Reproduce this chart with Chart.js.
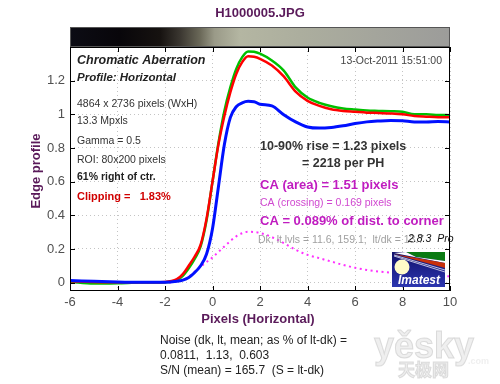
<!DOCTYPE html>
<html>
<head>
<meta charset="utf-8">
<script src="https://cdn.jsdelivr.net/npm/chart.js@4.4.1/dist/chart.umd.min.js"></script>
<style>
  html, body { margin: 0; padding: 0; background: #fff; }
  canvas { display: block; }
</style>
</head>
<body>
<canvas id="chart" width="500" height="384"></canvas>
<script>
// edge profile samples
const pixels = [-6, -5, -4, -3, -2, -1.5, -1.25, -1, -0.75, -0.5, -0.25, 0, 0.25, 0.5, 0.75, 1, 1.25, 1.5, 1.75, 2, 2.5, 3, 3.5, 4, 4.5, 5, 5.5, 6, 6.5, 7, 7.5, 8, 8.5, 9, 9.5, 10];
const greenEdge = [0.005, -0.006, -0.004, 0, 0.002, 0.015, 0.04, 0.085, 0.14, 0.215, 0.37, 0.6, 0.83, 1.02, 1.16, 1.27, 1.34, 1.374, 1.372, 1.36, 1.32, 1.26, 1.16, 1.1, 1.068, 1.048, 1.035, 1.028, 1.022, 1.02, 1.018, 1.015, 1.0, 1.0, 0.996, 0.995];
const redEdge = [0.008, 0.004, 0.002, 0.002, 0.004, 0.02, 0.05, 0.1, 0.155, 0.225, 0.38, 0.6, 0.82, 0.99, 1.13, 1.24, 1.31, 1.345, 1.342, 1.33, 1.29, 1.225, 1.135, 1.08, 1.05, 1.03, 1.02, 1.015, 1.01, 1.008, 1.005, 1.0, 0.99, 0.986, 0.983, 0.983];
const blueEdge = [0.012, 0.008, 0.004, 0.002, 0.002, 0.008, 0.015, 0.03, 0.06, 0.1, 0.17, 0.32, 0.57, 0.82, 0.98, 1.045, 1.068, 1.077, 1.075, 1.06, 1.05, 0.998, 0.955, 0.925, 0.918, 0.922, 0.932, 0.945, 0.955, 0.96, 0.963, 0.962, 0.955, 0.955, 0.957, 0.955];
const caArea = [0, 0, 0, 0, 0, 0.005, 0.015, 0.035, 0.065, 0.095, 0.122, 0.15, 0.182, 0.215, 0.247, 0.275, 0.293, 0.302, 0.3, 0.295, 0.27, 0.235, 0.195, 0.165, 0.145, 0.125, 0.105, 0.088, 0.075, 0.066, 0.059, 0.053, 0.048, 0.044, 0.04, 0.037];

const xTicks = [-6, -4, -2, 0, 2, 4, 6, 8, 10];
const xTickLabels = ['-6', '-4', '-2', '0', '2', '4', '6', '8', '10'];
const yTicks = [0, 0.2, 0.4, 0.6, 0.8, 1, 1.2];
const yTickLabels = ['0', '0.2', '0.4', '0.6', '0.8', '1', '1.2'];

const FONT = '"Liberation Sans", Arial, sans-serif';

const toPoints = (ys) => ys.map((v, i) => ({ x: pixels[i], y: v }));

// рисуем всё, что не является данными: полоса, рамка, подписи, логотип
const decor = {
  id: 'decor',
  beforeDraw(chart) {
    const { ctx } = chart;
    ctx.save();
    ctx.fillStyle = '#fff';
    ctx.fillRect(0, 0, chart.width, chart.height);
    ctx.restore();
  },
  afterDraw(chart) {
    const {
      ctx, chartArea: {
        left, top, right, bottom,
      }, scales: { x, y },
    } = chart;
    const w = right - left;

    const txt = (s, tx, ty, font, color, align = 'left') => {
      ctx.font = font;
      ctx.fillStyle = color;
      ctx.textAlign = align;
      ctx.textBaseline = 'middle';
      ctx.fillText(s, tx, ty);
    };

    ctx.save();

    // gray gradient strip above the plot
    const g = ctx.createLinearGradient(left, 0, right, 0);
    g.addColorStop(0, '#0c0c14');
    g.addColorStop(0.13, '#08060a');
    g.addColorStop(0.237, '#161210');
    g.addColorStop(0.289, '#3a3630');
    g.addColorStop(0.342, '#6a6858');
    g.addColorStop(0.38, '#9a9a88');
    g.addColorStop(0.447, '#b4b6a2');
    g.addColorStop(0.605, '#acae9e');
    g.addColorStop(1, '#9c9c9a');
    ctx.fillStyle = g;
    ctx.fillRect(left, top - 20, w, 19);
    ctx.strokeStyle = '#555';
    ctx.lineWidth = 1;
    ctx.strokeRect(left + 0.5, top - 19.5, w - 1, 19);

    // frame
    ctx.strokeStyle = '#000';
    ctx.strokeRect(left + 0.5, top + 0.5, w - 1, bottom - top - 1);

    // inward ticks
    ctx.beginPath();
    xTicks.forEach((v) => {
      const px = Math.round(x.getPixelForValue(v)) + 0.5;
      ctx.moveTo(px, bottom);
      ctx.lineTo(px, bottom - 5);
      ctx.moveTo(px, top);
      ctx.lineTo(px, top + 5);
    });
    yTicks.forEach((v) => {
      const py = Math.round(y.getPixelForValue(v)) + 0.5;
      ctx.moveTo(left, py);
      ctx.lineTo(left + 5, py);
      ctx.moveTo(right, py);
      ctx.lineTo(right - 5, py);
    });
    ctx.stroke();

    // titles
    const purple = '#5a1a5a';
    txt('H1000005.JPG', 260, 13, `bold 13px ${FONT}`, purple, 'center');
    txt('Pixels (Horizontal)', 258, 319, `bold 13px ${FONT}`, purple, 'center');
    ctx.save();
    ctx.translate(36, 171);
    ctx.rotate(-Math.PI / 2);
    txt('Edge profile', 0, 0, `bold 13px ${FONT}`, purple, 'center');
    ctx.restore();

    // info block, left
    txt('Chromatic Aberration', 77, 61, `italic bold 12.5px ${FONT}`, '#222');
    txt('Profile: Horizontal', 77, 78, `italic bold 11.5px ${FONT}`, '#222');
    txt('4864 x 2736 pixels (WxH)', 77, 104, `10.5px ${FONT}`, '#333');
    txt('13.3 Mpxls', 77, 121, `10.5px ${FONT}`, '#333');
    txt('Gamma = 0.5', 77, 141, `10.5px ${FONT}`, '#333');
    txt('ROI: 80x200 pixels', 77, 160, `10.5px ${FONT}`, '#333');
    txt('61% right of ctr.', 77, 177, `bold 10.5px ${FONT}`, '#222');
    txt('Clipping =   1.83%', 77, 197, `bold 11px ${FONT}`, '#d00000');
    txt('13-Oct-2011 15:51:00', 442, 61, `10.5px ${FONT}`, '#444', 'right');

    // results block, right
    txt('10-90% rise = 1.23 pixels', 260, 147, `bold 12.5px ${FONT}`, '#333');
    txt('= 2218 per PH', 302, 164, `bold 12.5px ${FONT}`, '#333');
    txt('CA (area) = 1.51 pixels', 260, 185, `bold 13px ${FONT}`, '#c01cc0');
    txt('CA (crossing) = 0.169 pixels', 260, 203, `10.5px ${FONT}`, '#d048d0');
    txt('CA = 0.089% of dist. to corner', 260, 221, `bold 13px ${FONT}`, '#c01cc0');
    txt('Dk, lt lvls = 11.6, 159.1;  lt/dk = 13.7', 258, 240, `10.5px ${FONT}`, '#a0a0a0');
    txt('2.8.3  Pro', 408, 239, `italic 10.5px ${FONT}`, '#111');

    // Imatest logo
    const lx = 392;
    const ly = 252;
    const lw = 53;
    const lh = 35;
    const lg = ctx.createLinearGradient(lx, ly, lx, ly + lh);
    lg.addColorStop(0, '#10106a');
    lg.addColorStop(1, '#2c36b0');
    ctx.fillStyle = lg;
    ctx.fillRect(lx, ly, lw, lh);
    ctx.fillStyle = '#0a7a12';
    ctx.beginPath();
    ctx.moveTo(lx + 14, ly);
    ctx.lineTo(lx + lw, ly);
    ctx.lineTo(lx + lw, ly + 9);
    ctx.lineTo(lx + 24, ly + 5);
    ctx.closePath();
    ctx.fill();
    ctx.fillStyle = '#ffffff';
    ctx.beginPath();
    ctx.moveTo(lx + 2, ly + 1);
    ctx.lineTo(lx + 14, ly);
    ctx.lineTo(lx + 24, ly + 5);
    ctx.lineTo(lx + lw, ly + 9);
    ctx.lineTo(lx + lw, ly + 11);
    ctx.closePath();
    ctx.fill();
    ctx.fillStyle = '#c8300c';
    ctx.beginPath();
    ctx.moveTo(lx + 2, ly + 2);
    ctx.lineTo(lx + lw, ly + 11);
    ctx.lineTo(lx + lw, ly + 16);
    ctx.closePath();
    ctx.fill();
    ctx.strokeStyle = '#e8e8f8';
    ctx.lineWidth = 0.8;
    ctx.beginPath();
    ctx.moveTo(lx + 2, ly + 3);
    ctx.lineTo(lx + lw, ly + 18);
    ctx.moveTo(lx + 2, ly + 4);
    ctx.lineTo(lx + lw, ly + 20);
    ctx.stroke();
    ctx.fillStyle = '#fffcc8';
    ctx.beginPath();
    ctx.arc(lx + 10, ly + 15, 7.5, 0, Math.PI * 2);
    ctx.fill();
    txt('Imatest', lx + 27, ly + 29, `italic bold 12px ${FONT}`, '#ffffff', 'center');

    // footer
    txt('Noise (dk, lt, mean; as % of lt-dk) =', 160, 341, `12px ${FONT}`, '#222');
    txt('0.0811,  1.13,  0.603', 160, 356, `12px ${FONT}`, '#222');
    txt('S/N (mean) = 165.7  (S = lt-dk)', 160, 371, `12px ${FONT}`, '#222');

    // watermark
    ctx.globalAlpha = 0.6;
    ctx.font = `bold 36px ${FONT}`;
    ctx.textAlign = 'left';
    ctx.textBaseline = 'alphabetic';
    ctx.fillStyle = '#e4e4e4';
    ctx.strokeStyle = '#c8c8c8';
    ctx.lineWidth = 1;
    ctx.fillText('yěsky', 374, 358);
    ctx.strokeText('yěsky', 374, 358);
    ctx.font = `bold 17px "Noto Sans CJK SC", sans-serif`;
    ctx.fillText('天极网', 398, 376);
    ctx.strokeText('天极网', 398, 376);
    ctx.font = `bold 9px ${FONT}`;
    ctx.fillText('.com', 468, 364);
    ctx.globalAlpha = 1;

    ctx.restore();
  },
};

const tickFont = { family: FONT, size: 13 };

const chartConfig = {
  type: 'line',
  data: {
    datasets: [
      {
        data: toPoints(blueEdge), borderColor: '#0010ff', borderWidth: 3,
      },
      {
        data: toPoints(redEdge), borderColor: '#ff0000', borderWidth: 2.5,
      },
      {
        data: toPoints(greenEdge), borderColor: '#00c000', borderWidth: 2.5,
      },
      {
        data: toPoints(caArea), borderColor: '#ff30ff', borderWidth: 2, borderDash: [2, 3.5],
      },
    ],
  },
  options: {
    responsive: false,
    animation: false,
    events: [],
    elements: {
      point: { radius: 0 },
      line: { tension: 0, cubicInterpolationMode: 'monotone', fill: false },
    },
    layout: {
      padding: {
        left: 0, top: 47, right: 50, bottom: 71,
      },
    },
    plugins: { legend: { display: false }, tooltip: { enabled: false } },
    scales: {
      x: {
        type: 'linear',
        min: -6,
        max: 10,
        afterBuildTicks(scale) { scale.ticks = xTicks.map((v) => ({ value: v })); },
        afterFit(scale) { scale.height = 22; },
        ticks: {
          autoSkip: false,
          maxRotation: 0,
          padding: 4,
          color: '#505050',
          font: tickFont,
          callback: (value) => xTickLabels[xTicks.indexOf(value)],
        },
        grid: { drawTicks: false, color: '#c4c4c4' },
        border: { display: false, dash: [1, 3] },
      },
      y: {
        type: 'linear',
        min: -0.05,
        max: 1.4,
        afterBuildTicks(scale) { scale.ticks = yTicks.map((v) => ({ value: v })); },
        afterFit(scale) { scale.width = 70; },
        ticks: {
          autoSkip: false,
          padding: 5,
          color: '#505050',
          font: tickFont,
          callback: (value) => yTickLabels[yTicks.indexOf(value)],
        },
        grid: { drawTicks: false, color: '#c4c4c4' },
        border: { display: false, dash: [1, 3] },
      },
    },
  },
  plugins: [decor],
};

const chart = new Chart(document.getElementById('chart'), chartConfig);
</script>
</body>
</html>
